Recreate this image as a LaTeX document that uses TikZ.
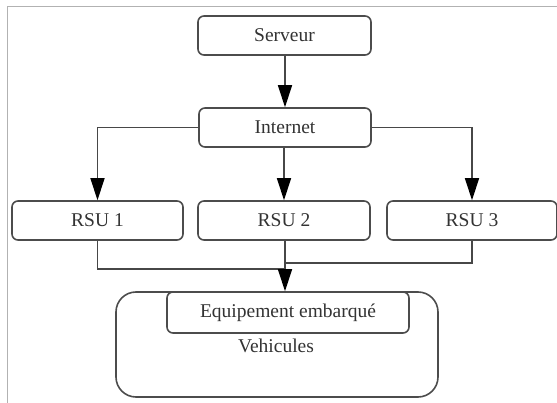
\documentclass[tikz,border=0pt]{standalone}
\usepackage{fontspec}
\setmainfont{Liberation Serif}
\usetikzlibrary{arrows.meta}
\begin{document}
\begin{tikzpicture}[x=1pt,y=-1pt,
  box/.style={draw=black!70, line width=1.6pt, rounded corners=6pt, fill=white, inner sep=0pt, text=black!80, font=\fontsize{19.5}{22}\selectfont},
  conn/.style={draw=black!72, line width=1.6pt},
  arr/.style={conn, -{Triangle[length=22pt,width=14pt,fill=black,color=black]}}]
\useasboundingbox (0,0) rectangle (557,403);
\fill[white] (0,0) rectangle (557,403);
\draw[black!30, line width=1pt] (7,403) -- (7,7) -- (557,7);
\node[box, minimum width=173pt, minimum height=39pt] (srv) at (284.5,35.5) {Serveur};
\node[box, minimum width=172pt, minimum height=39pt] (inet) at (285,127.5) {Internet};
\node[box, minimum width=171pt, minimum height=39pt] (r1) at (97.5,220.5) {RSU 1};
\node[box, minimum width=172pt, minimum height=39pt] (r2) at (284,220.5) {RSU 2};
\node[box, minimum width=170pt, minimum height=39pt] (r3) at (472,220.5) {RSU 3};
\node[box, rounded corners=20pt, minimum width=322pt, minimum height=105pt] (veh) at (277,344.5) {};
\node[box, minimum width=242pt, minimum height=41pt] (eq) at (288,312.5) {Equipement embarqué};
\node[text=black!80, font=\fontsize{19.5}{22}\selectfont] (vt) at (276,346) {Vehicules};
\coordinate (j) at (285,269);
\coordinate (k) at (285,263);
\draw[arr] (srv.south -| inet.north) -- (inet.north);
\draw[arr] (inet.west) -| (r1.north);
\draw[arr] (inet.east) -| (r3.north);
\draw[arr] (inet.south -| r2.north) -- (r2.north);
\draw[conn] (r1.south) |- (j);
\draw[conn] (r3.south) |- (k);
\draw[arr] (r2.south -| j) -- (j |- eq.north);
\end{tikzpicture}
\end{document}
